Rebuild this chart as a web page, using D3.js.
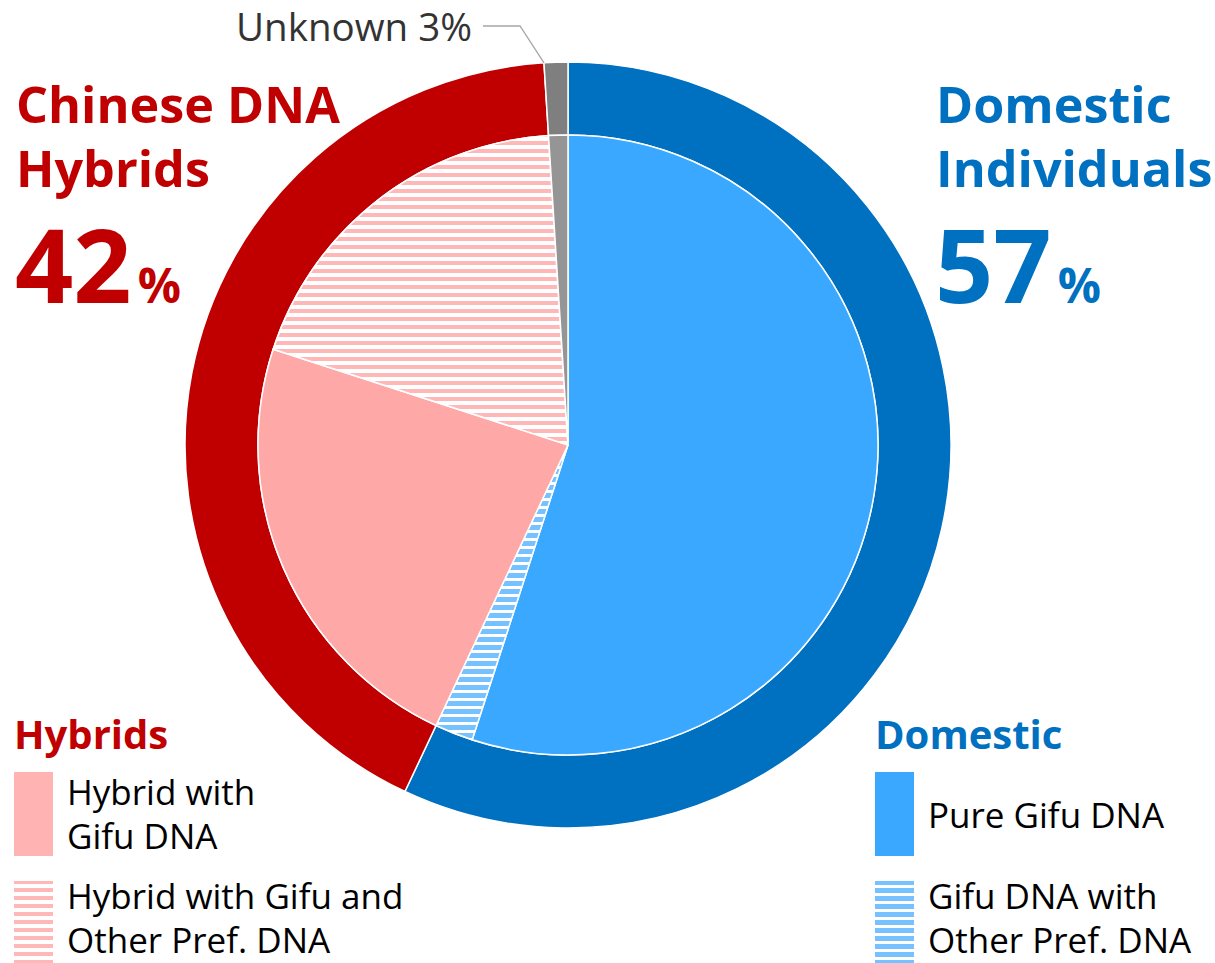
<!DOCTYPE html>
<html><head><meta charset="utf-8">
<script src="https://cdn.jsdelivr.net/npm/d3@7"></script>
<style>body{margin:0;background:#fff}text{font-family:"Open Sans","Noto Sans",sans-serif}</style>
</head><body><svg id="c" width="1215" height="963"></svg>
<script>
// ---- data ----
const outerCategories = ["Domestic Individuals", "Chinese DNA Hybrids", "Unknown"];
const outerValues = [57, 42, 1];
const innerCategories = ["Pure Gifu DNA", "Gifu DNA with Other Pref. DNA", "Hybrid with Gifu DNA", "Hybrid with Gifu and Other Pref. DNA", "Unknown"];
const innerValues = [55, 2, 23, 19, 1];
const unknownLabel = "Unknown 3%";
const domesticTitle = ["Domestic", "Individuals"];
const domesticPct = "57";
const hybridTitle = ["Chinese DNA", "Hybrids"];
const hybridPct = "42";
const hybridLegendTitle = "Hybrids";
const hybridLegendItems = [["Hybrid with", "Gifu DNA"], ["Hybrid with Gifu and", "Other Pref. DNA"]];
const domesticLegendTitle = "Domestic";
const domesticLegendItems = [["Pure Gifu DNA"], ["Gifu DNA with", "Other Pref. DNA"]];

// ---- styles ----
const BLUE = "#0070c0", RED = "#c00000";
const outerColors = [BLUE, RED, "#7f7f7f"];
const innerColors = ["#3aa8ff", "url(#stripeBlue)", "#ffa8a8", "url(#stripePink)", "#959595"];

const svg = d3.select("#c");
const defs = svg.append("defs");
function stripe(id, color, h) {
  const p = defs.append("pattern").attr("id", id).attr("patternUnits", "userSpaceOnUse")
    .attr("width", 8).attr("height", 8);
  p.append("rect").attr("width", 8).attr("height", 8).attr("fill", "#fff");
  p.append("rect").attr("width", 8).attr("height", h).attr("fill", color);
}
stripe("stripeBlue", "#76c1ff", 5);
stripe("stripePink", "#ffb8b8", 4);

const cx = 568, cy = 445, R = 383, r = 310;
const g = svg.append("g").attr("transform", `translate(${cx},${cy})`);
const pie = d3.pie().sort(null).startAngle(0).endAngle(2 * Math.PI);

g.selectAll("path.outer").data(pie(outerValues)).join("path")
  .attr("class", "outer")
  .attr("d", d3.arc().innerRadius(r).outerRadius(R))
  .attr("fill", (d, i) => outerColors[i])
  .attr("stroke", "#fff").attr("stroke-width", 1.5);

g.selectAll("path.inner").data(pie(innerValues)).join("path")
  .attr("class", "inner")
  .attr("d", d3.arc().innerRadius(0).outerRadius(r))
  .attr("fill", (d, i) => innerColors[i])
  .attr("stroke", "#fff").attr("stroke-width", 1.5);

// leader line for unknown
const uArc = pie(outerValues)[2];
const ux = cx + Math.sin(uArc.startAngle) * R, uy = cy - Math.cos(uArc.startAngle) * R;
svg.append("polyline")
  .attr("points", `483,26 520,26 ${ux.toFixed(1)},${uy.toFixed(1)}`)
  .attr("fill", "none").attr("stroke", "#a6a6a6").attr("stroke-width", 1.3);
svg.append("text").attr("x", 472).attr("y", 41).attr("text-anchor", "end")
  .attr("font-size", 38.5).attr("fill", "#333").text(unknownLabel);

// titles
function title(x, lines, pct, color) {
  lines.forEach((t, i) => svg.append("text").attr("x", x).attr("y", 123 + i * 64)
    .attr("font-size", 50.3).attr("font-weight", 700).attr("fill", color).text(t));
  const tt = svg.append("text").attr("x", x - 1).attr("y", 303).attr("fill", color).attr("font-weight", 700);
  tt.append("tspan").attr("font-size", 102).text(pct);
  tt.append("tspan").attr("font-size", 48).attr("dx", 6).text("%");
}
title(16, hybridTitle, hybridPct, RED);
title(936, domesticTitle, domesticPct, BLUE);

// legends
function legend(x, title, color, items, fills) {
  svg.append("text").attr("x", x - 1).attr("y", 749).attr("font-size", 40).attr("font-weight", 700)
    .attr("fill", color).text(title);
  const tops = [772, 881];
  items.forEach((lines, i) => {
    svg.append("rect").attr("x", x - 1).attr("y", tops[i]).attr("width", 39)
      .attr("height", i === 0 ? 84 : 82).attr("fill", fills[i]);
    const base = lines.length === 1 ? 828 : (i === 0 ? 805 : 909);
    lines.forEach((t, j) => svg.append("text").attr("x", x + 52).attr("y", base + j * 44)
      .attr("font-size", 35).attr("fill", "#000").text(t));
  });
}
legend(15, hybridLegendTitle, RED, hybridLegendItems, ["#ffb3b3", "url(#stripePink)"]);
legend(876, domesticLegendTitle, BLUE, domesticLegendItems, ["#3aa8ff", "url(#stripeBlue)"]);
</script></body></html>
